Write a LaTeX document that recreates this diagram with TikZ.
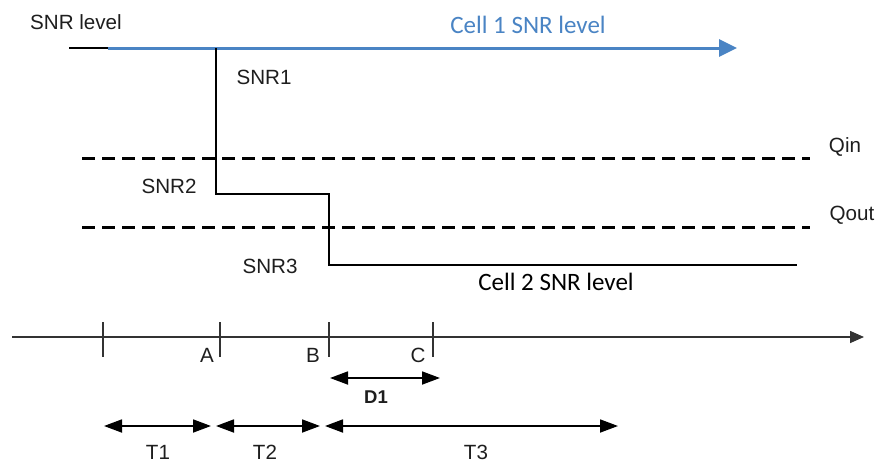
\documentclass[tikz,border=0pt]{standalone}
\usepackage{fontspec}
\setmainfont{Liberation Sans}
\newfontfamily\calib{Carlito}
\usetikzlibrary{arrows.meta}
\definecolor{cellblue}{RGB}{74,132,196}
\definecolor{txt}{RGB}{30,30,30}
\tikzset{
  lbl/.style={inner sep=0pt, text=txt, font=\fontsize{20.6}{24}\selectfont},
  cal/.style={inner sep=0pt, font=\calib\fontsize{25}{30}\selectfont},
  stepline/.style={line width=1.4pt, black},
  thresh/.style={line width=3pt, black, dash pattern=on 13pt off 7pt},
  axisline/.style={line width=1.6pt, black!80, -{Triangle[length=14pt,width=12pt]}},
  tickmark/.style={line width=1.4pt, black!80},
  span/.style={line width=1.8pt, black, {Triangle[length=18pt,width=13pt]}-{Triangle[length=18pt,width=13pt]}},
}
\begin{document}
\begin{tikzpicture}[x=1pt,y=-1pt]
\useasboundingbox (0,0) rectangle (879,463);
% labels
\node[lbl] (snrlevel) at (76,22) {SNR level};
\node[cal, text=cellblue] (cell1) at (528,25) {Cell 1 SNR level};
\node[lbl] (snr1) at (264,77) {SNR1};
\node[lbl] (qin) at (845,147) {Qin};
\node[lbl] (snr2) at (169,186) {SNR2};
\node[lbl] (qout) at (852,215) {Qout};
\node[lbl] (snr3) at (270,266) {SNR3};
\node[cal] (cell2) at (556,282) {Cell 2 SNR level};
% SNR curve coordinates
\coordinate (s0) at (69,48);
\coordinate (s1) at (108,48);
\coordinate (s2) at (216,48);
\coordinate (s3) at (216,194);
\coordinate (s4) at (329,194);
\coordinate (s5) at (329,265);
\coordinate (s6) at (797,265);
\coordinate (blueend) at (737,48);
\draw[line width=3pt, cellblue, -{Triangle[length=18pt,width=17pt]}] (s1) -- (blueend);
\draw[stepline] (s0) -- (s1);
\draw[stepline] (s2) -- (s3) -- (s4) -- (s5) -- (s6);
% thresholds
\coordinate (qinL) at (82,158);
\coordinate (qinR) at (810,158);
\coordinate (qoutL) at (82,227);
\coordinate (qoutR) at (810,227);
\draw[thresh] (qinL) -- (qinR);
\draw[thresh] (qoutL) -- (qoutR);
% time axis
\coordinate (ax0) at (12,337);
\coordinate (ax1) at (864,337);
\draw[axisline] (ax0) -- (ax1);
\foreach \n/\x in {t0/103,tA/220,tB/329,tC/433}{
  \coordinate (\n top) at (\x,322);
  \coordinate (\n bot) at (\x,357);
  \draw[tickmark] (\n top) -- (\n bot);
}
\node[lbl] (A) at (207,355) {A};
\node[lbl] (B) at (313,355) {B};
\node[lbl] (C) at (418,355) {C};
% D1
\coordinate (d1L) at (330,378);
\coordinate (d1R) at (440,378);
\draw[span] (d1L) -- (d1R);
\node[lbl, font=\bfseries\fontsize{18.5}{22}\selectfont] (D1) at (376,397) {D1};
% T spans
\coordinate (t1L) at (104,426);
\coordinate (t1R) at (211,426);
\coordinate (t2L) at (216,426);
\coordinate (t2R) at (320,426);
\coordinate (t3L) at (325,426);
\coordinate (t3R) at (618,426);
\draw[span] (t1L) -- (t1R);
\draw[span] (t2L) -- (t2R);
\draw[span] (t3L) -- (t3R);
\node[lbl] (T1) at (158,452) {T1};
\node[lbl] (T2) at (265,452) {T2};
\node[lbl] (T3) at (476,452) {T3};
\end{tikzpicture}
\end{document}
